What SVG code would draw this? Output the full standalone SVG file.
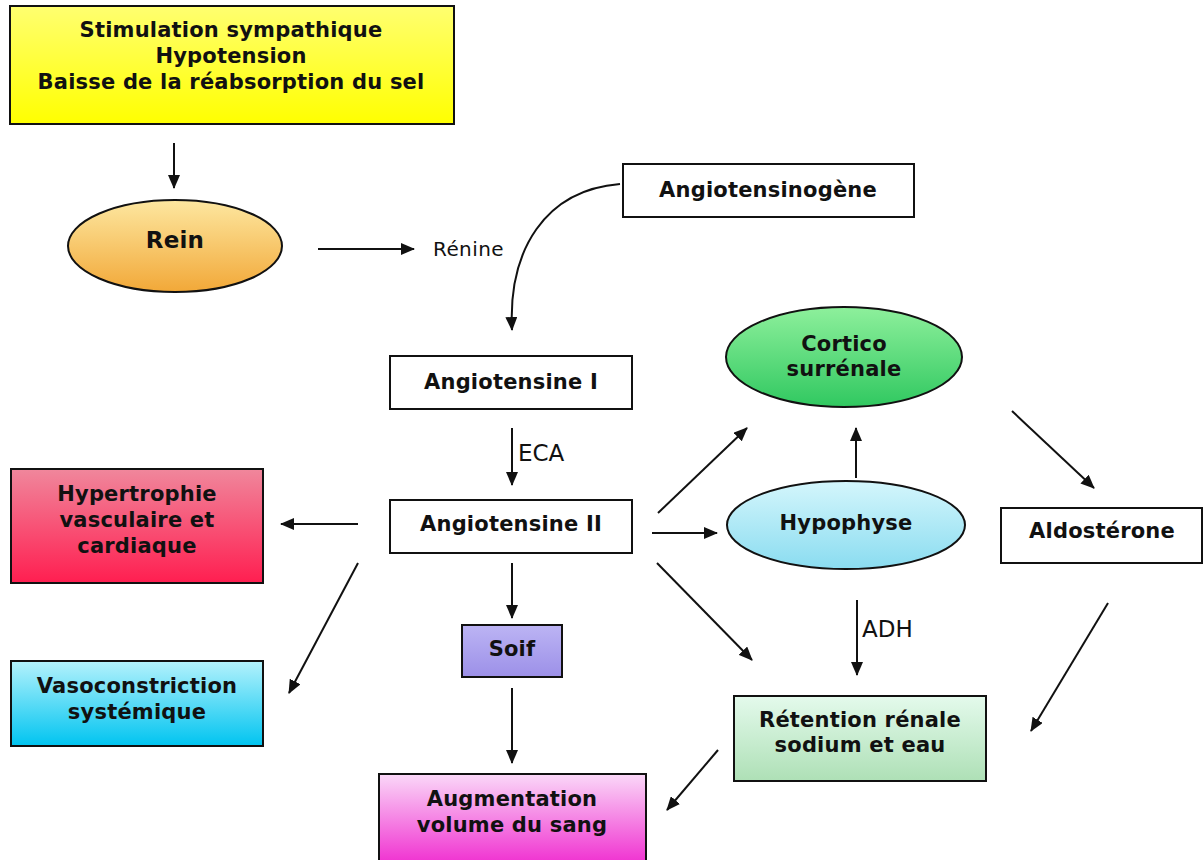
<svg xmlns="http://www.w3.org/2000/svg" width="1204" height="860" viewBox="0 0 1204 860">
<style>
.b{font-family:"DejaVu Sans","Liberation Sans",sans-serif;font-weight:bold;font-size:21px;letter-spacing:0.2px;fill:#111;text-anchor:middle}
.r{font-family:"DejaVu Sans","Liberation Sans",sans-serif;font-size:20px;letter-spacing:0.4px;fill:#111}
.box{stroke:#111;stroke-width:2}
.c{stroke:#111;stroke-width:2;fill:none;marker-end:url(#ah)}
</style>
<defs>
<marker id="ah" viewBox="0 0 14 12" refX="13" refY="6" markerWidth="14" markerHeight="12" markerUnits="userSpaceOnUse" orient="auto"><path d="M0,0L14,6L0,12z" fill="#111"/></marker>
<linearGradient id="gy" x1="0" y1="0" x2="0" y2="1"><stop offset="0" stop-color="#ffff70"/><stop offset="1" stop-color="#ffff00"/></linearGradient>
<linearGradient id="go" x1="0" y1="0" x2="0" y2="1"><stop offset="0" stop-color="#fde7a0"/><stop offset="1" stop-color="#f2a838"/></linearGradient>
<linearGradient id="gr" x1="0" y1="0" x2="0" y2="1"><stop offset="0" stop-color="#f0879c"/><stop offset="1" stop-color="#ff1e50"/></linearGradient>
<linearGradient id="gc" x1="0" y1="0" x2="0" y2="1"><stop offset="0" stop-color="#b4f2fc"/><stop offset="1" stop-color="#00c4f0"/></linearGradient>
<linearGradient id="gp" x1="0" y1="0" x2="0" y2="1"><stop offset="0" stop-color="#bcb4f4"/><stop offset="1" stop-color="#9c90e8"/></linearGradient>
<linearGradient id="gm" x1="0" y1="0" x2="0" y2="1"><stop offset="0" stop-color="#fad8f8"/><stop offset="1" stop-color="#f030d0"/></linearGradient>
<linearGradient id="gg" x1="0" y1="0" x2="0" y2="1"><stop offset="0" stop-color="#8ef09c"/><stop offset="1" stop-color="#30c860"/></linearGradient>
<linearGradient id="gb" x1="0" y1="0" x2="0" y2="1"><stop offset="0" stop-color="#d4f6fc"/><stop offset="1" stop-color="#8adcf0"/></linearGradient>
<linearGradient id="gl" x1="0" y1="0" x2="0" y2="1"><stop offset="0" stop-color="#e4faec"/><stop offset="1" stop-color="#aee0b6"/></linearGradient>
</defs>

<g id="stimulus">
<rect class="box" x="10" y="6" width="444" height="118" fill="url(#gy)"/>
<text class="b" x="231" y="37">Stimulation sympathique</text>
<text class="b" x="231" y="63">Hypotension</text>
<text class="b" x="231" y="89">Baisse de la réabsorption du sel</text>
</g>
<g id="rein">
<ellipse class="box" cx="175" cy="246" rx="107" ry="46" fill="url(#go)"/>
<text class="b" x="175" y="248" style="font-size:23px">Rein</text>
</g>
<g id="renine"><text class="r" x="433" y="256">Rénine</text></g>
<g id="angiotensinogene">
<rect class="box" x="623" y="164" width="291" height="53" fill="#fff"/>
<text class="b" x="768" y="197">Angiotensinogène</text>
</g>
<g id="angiotensine1">
<rect class="box" x="390" y="356" width="242" height="53" fill="#fff"/>
<text class="b" x="511" y="389">Angiotensine I</text>
</g>
<g id="angiotensine2">
<rect class="box" x="390" y="500" width="242" height="53" fill="#fff"/>
<text class="b" x="511" y="531">Angiotensine II</text>
</g>
<g id="hypertrophie">
<rect class="box" x="11" y="469" width="252" height="114" fill="url(#gr)"/>
<text class="b" x="137" y="501">Hypertrophie</text>
<text class="b" x="137" y="527">vasculaire et</text>
<text class="b" x="137" y="553">cardiaque</text>
</g>
<g id="vasoconstriction">
<rect class="box" x="11" y="661" width="252" height="85" fill="url(#gc)"/>
<text class="b" x="137" y="693">Vasoconstriction</text>
<text class="b" x="137" y="719">systémique</text>
</g>
<g id="soif">
<rect class="box" x="462" y="625" width="100" height="52" fill="url(#gp)"/>
<text class="b" x="512" y="656">Soif</text>
</g>
<g id="augmentation">
<rect class="box" x="379" y="774" width="267" height="90" fill="url(#gm)"/>
<text class="b" x="512" y="806">Augmentation</text>
<text class="b" x="512" y="832">volume du sang</text>
</g>
<g id="cortico">
<ellipse class="box" cx="844" cy="357" rx="118" ry="50" fill="url(#gg)"/>
<text class="b" x="844" y="351">Cortico</text>
<text class="b" x="844" y="376">surrénale</text>
</g>
<g id="hypophyse">
<ellipse class="box" cx="846" cy="525" rx="119" ry="44" fill="url(#gb)"/>
<text class="b" x="846" y="530">Hypophyse</text>
</g>
<g id="aldosterone">
<rect class="box" x="1001" y="508" width="201" height="55" fill="#fff"/>
<text class="b" x="1102" y="538">Aldostérone</text>
</g>
<g id="retention">
<rect class="box" x="734" y="696" width="252" height="85" fill="url(#gl)"/>
<text class="b" x="860" y="727">Rétention rénale</text>
<text class="b" x="860" y="752">sodium et eau</text>
</g>
<g id="labels">
<text class="r" x="518" y="461" style="font-size:23px;letter-spacing:0">ECA</text>
<text class="r" x="862" y="637" style="font-size:23px;letter-spacing:0">ADH</text>
</g>
<g id="connectors">
<path class="c" d="M174,143V188"/>
<path class="c" d="M318,249H414"/>
<path class="c" d="M620,184C545,190 508,250 512,330"/>
<path class="c" d="M512,428V485"/>
<path class="c" d="M358,524H281"/>
<path class="c" d="M358,563L289,693"/>
<path class="c" d="M512,563V618"/>
<path class="c" d="M512,688V763"/>
<path class="c" d="M658,513L747,428"/>
<path class="c" d="M652,533H717"/>
<path class="c" d="M657,563L752,660"/>
<path class="c" d="M856,478V428"/>
<path class="c" d="M1012,411L1094,488"/>
<path class="c" d="M857,600V675"/>
<path class="c" d="M1108,603L1031,731"/>
<path class="c" d="M718,750L667,810"/>
</g>
</svg>
